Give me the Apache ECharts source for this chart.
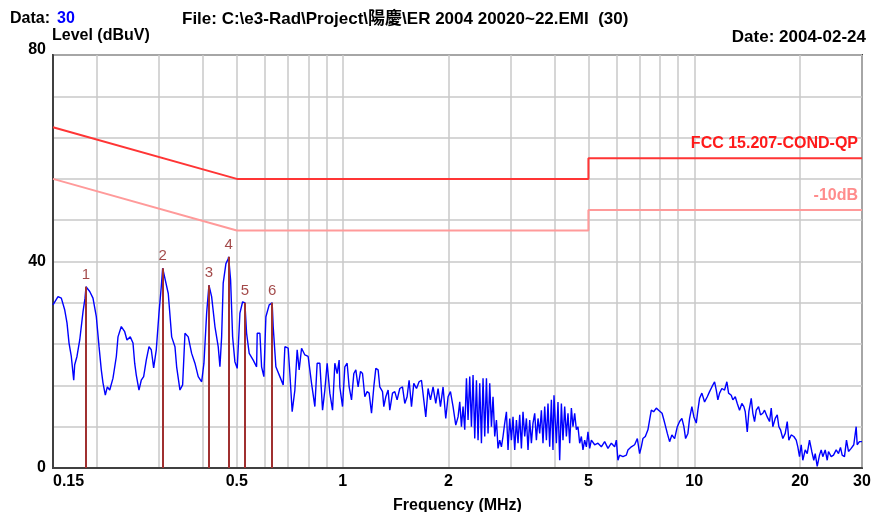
<!DOCTYPE html>
<html>
<head>
<meta charset="utf-8">
<title>EMI scan</title>
<script src="https://cdn.jsdelivr.net/npm/echarts@6/dist/echarts.min.js"></script>
<style>
  html, body { margin: 0; padding: 0; background: #fff; }
  #chart { width: 880px; height: 512px; }
</style>
</head>
<body>
<div id="chart"></div>
<script>
// measured trace (MHz / dBuV)
const traceFreqs = [
  0.150, 0.1550, 0.1584, 0.1620, 0.1644, 0.1666, 0.1691, 0.1718, 0.1729, 0.1755, 0.1787, 0.1826, 0.1850, 0.1862,
  0.1908, 0.1949, 0.1992, 0.2028, 0.2058, 0.2081, 0.2113, 0.2141, 0.2175, 0.2222, 0.2271, 0.2296, 0.2346, 0.2399,
  0.2435, 0.2488, 0.2533, 0.2561, 0.2588, 0.2634, 0.2674, 0.2716, 0.2763, 0.2813, 0.2855, 0.2900, 0.2950, 0.3003,
  0.3048, 0.3076, 0.3191, 0.3263, 0.3334, 0.3371, 0.3445, 0.3506, 0.3560, 0.3637, 0.3719, 0.3800, 0.3883, 0.3971,
  0.4031, 0.4103, 0.4165, 0.4239, 0.4332, 0.4426, 0.4476, 0.4526, 0.4573, 0.4655, 0.4726, 0.4738, 0.4800, 0.4864,
  0.4937, 0.5012, 0.5102, 0.5193, 0.5271, 0.5330, 0.5422, 0.5566, 0.5691, 0.5714, 0.5815, 0.5880, 0.5969, 0.6048,
  0.6180, 0.6302, 0.6344, 0.6457, 0.6628, 0.6773, 0.6849, 0.6999, 0.7076, 0.7184, 0.7312, 0.7423, 0.7521, 0.7640,
  0.7807, 0.7977, 0.8156, 0.8335, 0.8461, 0.8612, 0.8765, 0.8898, 0.9034, 0.9194, 0.9358, 0.9500, 0.9645, 0.9772,
  0.9816, 0.9991, 1.0143, 1.0297, 1.0433, 1.0597, 1.0758, 1.0900, 1.1065, 1.1240, 1.1388, 1.1561, 1.1737, 1.1892,
  1.2079, 1.2262, 1.2424, 1.2613, 1.2753, 1.2981, 1.3092, 1.3265, 1.3466, 1.3616, 1.3859, 1.4069, 1.4283, 1.4537,
  1.4796, 1.5021, 1.5249, 1.5451, 1.5694, 1.5932, 1.6217, 1.6496, 1.6755, 1.7009, 1.7234, 1.7496, 1.7771, 1.8077,
  1.8400, 1.8679, 1.8974, 1.9300, 1.9644, 1.9943, 2.0257, 2.0605, 2.0973, 2.1291,
  2.1528, 2.1769, 2.1998, 2.2245, 2.2494, 2.2731, 2.2984, 2.3241, 2.3486, 2.3750, 2.4016, 2.4269, 2.4539, 2.4813,
  2.5075, 2.5356, 2.5640, 2.5910, 2.6198, 2.6492, 2.6770, 2.7071, 2.7374, 2.7663, 2.7970, 2.8283, 2.8581, 2.8902,
  2.9226, 2.9534, 2.9862, 3.0196, 3.0514, 3.0857, 3.1202, 3.1531, 3.1882, 3.2238, 3.2578, 3.2944, 3.3313, 3.3664,
  3.4038, 3.4419, 3.4782, 3.5172, 3.5566, 3.5941, 3.6340, 3.6747, 3.7134, 3.7551, 3.7972, 3.8372, 3.8798, 3.9232,
  3.9646, 3.9906, 4.0540, 4.0967, 4.1422, 4.1886, 4.2327, 4.2802, 4.3282, 4.3738, 4.4224, 4.4719, 4.5190, 4.5697,
  4.6209, 4.6696, 4.7215, 4.7744, 4.8247, 4.8788, 4.9335, 4.9854, 5.0408, 5.0973, 5.2087, 5.3226, 5.4421, 5.5610,
  5.6826, 5.8101, 5.9372, 6.0037, 6.0670, 6.1344, 6.2684, 6.4098, 6.4773, 6.6226, 6.7674, 6.8883, 6.9922, 7.0705,
  7.1450, 7.2583, 7.3831, 7.4652, 7.5488, 7.6634, 7.8003, 7.9188,
  7.9701, 8.0990, 8.1978, 8.2897, 8.3827, 8.5091, 8.6381, 8.7926, 8.9497, 9.0846, 9.2224, 9.3441, 9.4489, 9.5925,
  9.6991, 9.8462, 9.9761, 10.134, 10.241, 10.355, 10.512, 10.700, 10.891, 11.055, 11.223, 11.424, 11.552, 11.673,
  11.803, 11.982, 12.196, 12.382, 12.520, 12.743, 12.877, 13.081, 13.254, 13.454, 13.658, 13.838, 13.966, 14.151,
  14.300, 14.525, 14.678, 14.842, 15.009, 15.236, 15.436, 15.670, 15.846, 16.129, 16.372, 16.556, 16.730, 16.995,
  17.220, 17.402, 17.595, 17.862, 18.145, 18.385, 18.579, 18.871, 19.195, 19.500, 19.705, 19.924, 20.147, 20.360,
  20.682, 20.956, 21.272, 21.594, 21.879, 22.081, 22.373, 22.711, 22.965, 23.207, 23.575, 23.886, 24.091, 24.518,
  24.890, 25.335, 25.720, 26.057, 26.349, 26.749, 27.102, 27.460, 27.947, 28.427, 28.878, 29.068, 29.507, 30.0
];
const traceLevels = [
  31.6, 33.2, 32.9, 30.6, 28.1, 24.2, 21.6, 17.0, 20.0, 21.6, 24.8, 30.3, 32.9, 35.1,
  34.2, 32.9, 29.3, 23.5, 19.0, 16.5, 14.1, 15.7, 15.1, 17.4, 21.6, 25.4, 27.4, 26.4,
  24.8, 25.4, 24.2, 20.3, 18.0, 15.1, 17.0, 17.7, 20.9, 23.5, 22.9, 19.4, 22.9, 30.0,
  35.1, 38.7, 33.8, 25.4, 23.5, 19.6, 15.1, 16.1, 26.1, 25.4, 22.2, 20.3, 17.7, 16.7,
  20.3, 30.0, 35.4, 33.2, 27.4, 23.5, 19.6, 25.4, 35.8, 39.6, 40.5, 40.9, 36.4, 25.4,
  20.6, 19.3, 30.0, 32.2, 32.0, 26.1, 22.2, 20.9, 19.6, 26.1, 26.1, 19.6, 17.7, 29.3,
  31.6, 32.0, 27.4, 19.6, 17.7, 16.1, 23.5, 23.2, 18.3, 10.9, 15.1, 22.9, 19.0, 23.2,
  21.9, 21.6, 16.4, 11.9, 20.3, 20.3, 11.2, 15.1, 20.3, 14.5, 11.2, 20.3, 18.3, 20.9,
  15.7, 11.9, 19.6, 20.3, 15.7, 13.2, 18.3, 19.0, 15.7, 18.7, 18.3, 13.8, 14.8, 14.5,
  10.6, 15.7, 19.3, 19.0, 15.7, 14.8, 11.9, 13.8, 15.1, 11.2, 14.5, 14.8, 13.2, 15.4,
  15.7, 12.5, 13.8, 17.0, 11.9, 16.4, 15.4, 16.7, 17.0, 13.2, 9.9, 15.4, 13.2, 15.7,
  12.5, 15.4, 11.9, 15.7, 9.6, 13.8, 14.8, 11.9, 8.3, 9.9,
  12.8, 8.0, 11.9, 7.4, 17.4, 9.3, 17.7, 8.0, 18.0, 5.7, 17.0, 5.4, 16.4, 4.8,
  17.4, 6.1, 17.4, 6.7, 16.4, 8.0, 13.8, 6.1, 9.3, 3.8, 5.4, 4.1, 6.1, 8.7,
  10.9, 3.5, 9.6, 5.4, 9.9, 3.5, 9.3, 4.8, 10.3, 3.8, 10.9, 6.1, 9.6, 3.5,
  9.3, 4.8, 8.7, 10.6, 5.4, 9.6, 6.7, 11.2, 4.8, 11.9, 5.4, 12.5, 4.1, 13.2,
  3.5, 14.1, 4.8, 12.8, 1.5, 12.5, 5.4, 11.9, 6.1, 10.6, 4.8, 11.6, 8.0, 10.6,
  7.4, 8.0, 4.8, 6.1, 3.5, 5.4, 4.1, 7.0, 3.8, 5.4, 4.5, 4.8, 4.1, 5.1,
  3.8, 4.8, 4.1, 5.4, 1.5, 2.5, 2.2, 2.5, 3.5, 4.1, 4.5, 5.7, 2.8, 4.1,
  5.7, 6.1, 7.4, 9.3, 11.2, 10.9, 11.6, 11.2,
  11.2, 10.6, 9.3, 8.0, 6.7, 5.1, 6.4, 5.7, 8.0, 9.0, 9.6, 8.0, 5.7, 6.7,
  9.6, 11.9, 9.9, 8.7, 11.2, 13.5, 14.5, 12.8, 13.8, 14.8, 15.7, 16.7, 15.1, 13.2,
  14.5, 15.4, 15.1, 16.7, 14.5, 14.1, 13.2, 13.8, 12.5, 11.2, 12.5, 11.9, 10.9, 7.0,
  10.9, 13.5, 10.6, 9.0, 11.2, 11.9, 10.3, 10.6, 11.2, 9.9, 9.0, 11.6, 8.0, 9.6,
  10.3, 8.0, 7.4, 5.7, 6.7, 9.0, 5.4, 6.4, 6.1, 5.4, 4.1, 2.2, 4.5, 1.5,
  3.5, 2.8, 5.4, 3.2, 1.5, 2.8, 0.3, 2.5, 3.5, 2.2, 3.5, 1.5, 3.2, 2.2,
  2.5, 3.5, 2.8, 4.0, 2.5, 2.2, 5.4, 3.2, 3.8, 4.5, 8.0, 4.5, 5.1, 5.1
];

// FCC 15.207 conducted QP limit and the -10 dB line
const limitFreqs = [0.15, 0.5, 5, 5, 30];
const limitQP = [66, 56, 56, 60, 60];
const limitQPminus10 = [56, 46, 46, 50, 50];

// marked peaks
const markerNames = ['1', '2', '3', '4', '5', '6'];
const markerFreqs = [0.1862, 0.3076, 0.4165, 0.4738, 0.5271, 0.6302];
const markerLevels = [35.1, 38.7, 35.4, 40.9, 32.0, 32.0];

// axis ticks
const xLabelValues = [0.15, 0.5, 1, 2, 5, 10, 20, 30];
const xGridValues = [0.2, 0.3, 0.4, 0.5, 0.6, 0.7, 0.8, 0.9, 1, 2, 3, 4, 5, 6, 7, 8, 9, 10, 20, 30];
const yLabelValues = [0, 40, 80];

const FONT = '"Liberation Sans", Arial, "Noto Sans CJK TC", sans-serif';
const BOLD16 = 'bold 16px ' + FONT;
const BOLD17 = 'bold 17px ' + FONT;

const chart = echarts.init(document.getElementById('chart'));

const pairs = (xs, ys) => xs.map((x, i) => [x, ys[i]]);

chart.setOption({
  animation: false,
  backgroundColor: '#ffffff',
  textStyle: { fontFamily: FONT },
  grid: {
    left: 53, right: 18, top: 55, bottom: 44,
    outerBoundsMode: 'none',
    show: true, borderColor: '#404040', borderWidth: 2
  },
  graphic: [
    { type: 'text', x: 10, y: 19, style: { text: 'Data:', font: BOLD16, fill: '#000', verticalAlign: 'middle' } },
    { type: 'text', x: 57, y: 19, style: { text: '30', font: BOLD16, fill: '#0000ff', verticalAlign: 'middle' } },
    { type: 'text', x: 182, y: 19, style: { text: 'File: C:\\e3-Rad\\Project\\陽慶\\ER 2004 20020~22.EMI  (30)', font: BOLD17, fill: '#000', verticalAlign: 'middle' } },
    { type: 'text', x: 52, y: 36, style: { text: 'Level (dBuV)', font: BOLD16, fill: '#000', verticalAlign: 'middle' } },
    { type: 'text', x: 866, y: 37, style: { text: 'Date: 2004-02-24', font: BOLD17, fill: '#000', align: 'right', verticalAlign: 'middle' } }
  ],
  xAxis: {
    type: 'log',
    logBase: 10,
    min: 0.15,
    max: 30,
    name: 'Frequency (MHz)',
    nameLocation: 'middle',
    nameGap: 30,
    nameTextStyle: { fontWeight: 'bold', fontSize: 16, color: '#000' },
    axisLine: { show: true, lineStyle: { color: '#404040', width: 2 } },
    axisTick: { show: false, customValues: xGridValues },
    splitLine: { show: true, lineStyle: { color: '#c8c8c8', width: 1.5 } },
    axisLabel: {
      customValues: xLabelValues,
      formatter: v => String(v),
      margin: 6,
      fontWeight: 'bold',
      fontSize: 16,
      color: '#000',
      alignMinLabel: 'left'
    }
  },
  yAxis: {
    type: 'value',
    min: 0,
    max: 80,
    interval: 8,
    axisLine: { show: true, lineStyle: { color: '#404040', width: 2 } },
    axisTick: { show: false },
    splitLine: { show: true, lineStyle: { color: '#c8c8c8', width: 1.5 } },
    axisLabel: {
      margin: 7,
      fontWeight: 'bold',
      fontSize: 16,
      color: '#000',
      formatter: v => {
        if (yLabelValues.indexOf(v) < 0) return '';
        return v === 80 ? '{top|80}' : String(v);
      },
      rich: {
        top: { fontWeight: 'bold', fontSize: 16, color: '#000', padding: [0, 0, 10, 0] }
      }
    }
  },
  series: [
    {
      name: 'Level',
      type: 'line',
      data: pairs(traceFreqs, traceLevels),
      symbol: 'none',
      lineStyle: { color: '#0000ff', width: 1.4 },
      z: 3
    },
    {
      name: 'FCC 15.207-COND-QP',
      type: 'line',
      data: pairs(limitFreqs, limitQP),
      symbol: 'none',
      lineStyle: { color: '#ff3535', width: 2 },
      z: 2,
      markPoint: {
        symbol: 'circle',
        symbolSize: 0,
        data: [{ name: 'FCC 15.207-COND-QP', coord: [30, 60] }],
        label: {
          show: true, position: 'left', distance: 4, offset: [0, -15],
          formatter: '{b}', fontWeight: 'bold', fontSize: 16, color: '#ff1a1a'
        }
      }
    },
    {
      name: '-10dB',
      type: 'line',
      data: pairs(limitFreqs, limitQPminus10),
      symbol: 'none',
      lineStyle: { color: '#ff9a9a', width: 2 },
      z: 2,
      markPoint: {
        symbol: 'circle',
        symbolSize: 0,
        data: [{ name: '-10dB', coord: [30, 50] }],
        label: {
          show: true, position: 'left', distance: 4, offset: [0, -14],
          formatter: '{b}', fontWeight: 'bold', fontSize: 16, color: '#ff8c8c'
        }
      }
    },
    {
      name: 'Markers',
      type: 'scatter',
      data: markerFreqs.map((f, i) => ({ name: markerNames[i], value: [f, markerLevels[i]] })),
      symbolSize: 1,
      itemStyle: { color: 'rgba(0,0,0,0)' },
      z: 4,
      label: {
        show: true, position: 'top', distance: 4,
        formatter: '{b}', fontSize: 15, color: '#8b1a1a'
      },
      markLine: {
        silent: true,
        symbol: ['none', 'none'],
        label: { show: false },
        lineStyle: { color: '#a03030', width: 2, type: 'solid' },
        data: markerFreqs.map((f, i) => [{ coord: [f, 0] }, { coord: [f, markerLevels[i]] }])
      }
    }
  ]
});
</script>
</body>
</html>
